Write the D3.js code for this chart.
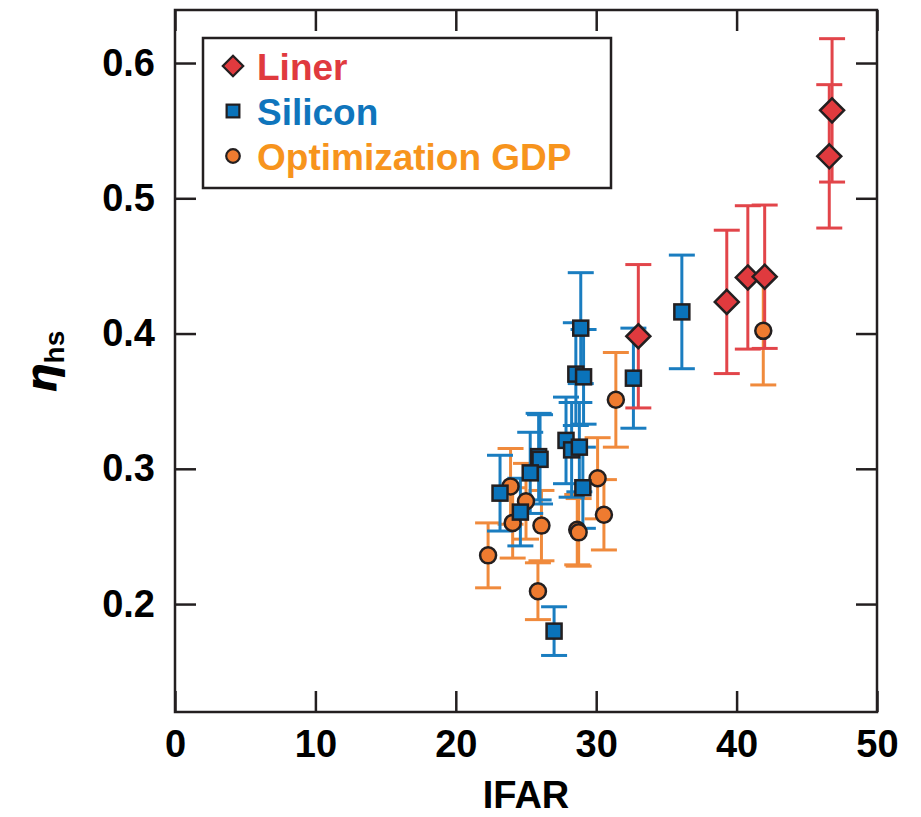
<!DOCTYPE html>
<html>
<head>
<meta charset="utf-8">
<script src="https://cdn.jsdelivr.net/npm/d3@7"></script>
<style>
  body { margin: 0; background: #fff; }
  text { font-family: "Liberation Sans", Arial, sans-serif; font-weight: bold; }
</style>
</head>
<body>
<div id="vis"></div>
<script>
// [IFAR, eta_hs, error]
var liner = [
  [33.0, 0.398, 0.053], [39.3, 0.4234, 0.053], [40.8, 0.4415, 0.053],
  [42.0, 0.442, 0.053], [46.8, 0.565, 0.053], [46.6, 0.531, 0.053]
];
var silicon = [
  [28.9, 0.404, 0.041], [28.55, 0.370, 0.038], [29.1, 0.368, 0.035],
  [32.65, 0.367, 0.037], [36.1, 0.416, 0.042], [27.85, 0.321, 0.032],
  [28.25, 0.314, 0.035], [28.8, 0.316, 0.033], [25.9, 0.309, 0.032],
  [26.0, 0.307, 0.033], [25.3, 0.297, 0.030], [29.05, 0.286, 0.030],
  [23.15, 0.282, 0.028], [24.6, 0.268, 0.025], [27.0, 0.180, 0.018]
];
var gdp = [
  [31.4, 0.351, 0.035], [41.9, 0.402, 0.040], [30.1, 0.293, 0.030],
  [23.9, 0.287, 0.028], [25.0, 0.276, 0.028], [30.55, 0.266, 0.026],
  [24.05, 0.260, 0.026], [26.1, 0.258, 0.026], [28.65, 0.255, 0.026],
  [28.75, 0.253, 0.025], [22.3, 0.236, 0.024], [25.85, 0.2095, 0.021]
];
var xTicks = [0, 10, 20, 30, 40, 50];
var yTicks = [0.2, 0.3, 0.4, 0.5, 0.6];

var width = 921, height = 817;
var plotL = 175, plotR = 877, plotT = 10, plotB = 712;

var series = [
  {name: "Optimization GDP", data: gdp, shape: "circle", fill: "#ee7b30", bar: "#f08a3c", text: "#f7941d"},
  {name: "Silicon", data: silicon, shape: "square", fill: "#0a73ba", bar: "#1a7dc0", text: "#0f75bc"},
  {name: "Liner", data: liner, shape: "diamond", fill: "#e03a3e", bar: "#e2454a", text: "#e03a3e"}
];

var x = d3.scaleLinear().domain([0, 50]).range([plotL, plotR]);
var y = d3.scaleLinear().domain([0.1202, 0.6392]).range([plotB, plotT]);

var svg = d3.select("#vis").append("svg")
    .attr("width", width)
    .attr("height", height);

// axes, ticks pointing inward
svg.append("g")
    .attr("transform", "translate(0," + plotB + ")")
    .call(d3.axisBottom(x).tickValues(xTicks).tickSizeInner(-21).tickSizeOuter(0).tickPadding(18))
    .call(styleAxis);
svg.append("g")
    .attr("transform", "translate(0," + plotT + ")")
    .call(d3.axisTop(x).tickValues(xTicks).tickSizeInner(-21).tickSizeOuter(0).tickFormat(""))
    .call(styleAxis);
svg.append("g")
    .attr("transform", "translate(" + plotL + ",0)")
    .call(d3.axisLeft(y).tickValues(yTicks).tickSizeInner(-21).tickSizeOuter(0).tickPadding(20).tickFormat(d3.format(".1f")))
    .call(styleAxis);
svg.append("g")
    .attr("transform", "translate(" + plotR + ",0)")
    .call(d3.axisRight(y).tickValues(yTicks).tickSizeInner(-21).tickSizeOuter(0).tickFormat(""))
    .call(styleAxis);

function styleAxis(g) {
  g.select(".domain").remove();
  g.selectAll("line").attr("stroke", "#231f20").attr("stroke-width", 2.5);
  g.selectAll("text").attr("font-size", 38).attr("fill", "#000")
    .style("font-family", "'Liberation Sans', Arial, sans-serif").style("font-weight", "bold");
}

svg.append("rect")
    .attr("x", plotL).attr("y", plotT)
    .attr("width", plotR - plotL).attr("height", plotB - plotT)
    .attr("fill", "none").attr("stroke", "#231f20").attr("stroke-width", 2.5);

// error bars
var cap = 13;
series.forEach(function(s) {
  var g = svg.append("g").attr("stroke", s.bar).attr("stroke-width", 3);
  s.data.forEach(function(d) {
    var cx = x(d[0]), y0 = y(d[1] - d[2]), y1 = y(d[1] + d[2]);
    g.append("line").attr("x1", cx).attr("x2", cx).attr("y1", y0).attr("y2", y1);
    g.append("line").attr("x1", cx - cap).attr("x2", cx + cap).attr("y1", y0).attr("y2", y0);
    g.append("line").attr("x1", cx - cap).attr("x2", cx + cap).attr("y1", y1).attr("y2", y1);
  });
});

function marker(g, shape, cx, cy, k) {
  if (shape == "circle") {
    return g.append("circle").attr("cx", cx).attr("cy", cy).attr("r", 8 * k);
  } else if (shape == "square") {
    var h = 7.5 * k;
    return g.append("rect").attr("x", cx - h).attr("y", cy - h).attr("width", 2 * h).attr("height", 2 * h);
  } else {
    var r = 12 * k;
    return g.append("path").attr("d", "M" + cx + "," + (cy - r) + "L" + (cx + r) + "," + cy +
      "L" + cx + "," + (cy + r) + "L" + (cx - r) + "," + cy + "Z");
  }
}

series.forEach(function(s) {
  var g = svg.append("g").attr("stroke", "#231f20").attr("stroke-width", 2.5).attr("fill", s.fill);
  s.data.forEach(function(d) {
    marker(g, s.shape, x(d[0]), y(d[1]), 1);
  });
});

// legend
var lg = svg.append("g");
lg.append("rect").attr("x", 203).attr("y", 38).attr("width", 408).attr("height", 150)
    .attr("fill", "#fff").attr("stroke", "#231f20").attr("stroke-width", 2.5);
var legendOrder = [series[2], series[1], series[0]];
legendOrder.forEach(function(s, i) {
  var cy = 66 + i * 45;
  var m = marker(lg, s.shape, 233, cy, 0.85);
  m.attr("fill", s.fill).attr("stroke", "#231f20").attr("stroke-width", 2.2);
  lg.append("text").attr("x", 257).attr("y", cy + 14)
      .attr("font-size", 37).attr("fill", s.text).text(s.name);
});

// axis titles
svg.append("text")
    .attr("x", x(25)).attr("y", 808)
    .attr("text-anchor", "middle").attr("font-size", 38).text("IFAR");

var yl = svg.append("text")
    .attr("transform", "translate(56,362) rotate(-90)")
    .attr("text-anchor", "middle");
yl.append("tspan").attr("font-size", 42).style("font-style", "italic").style("font-weight", "bold")
    .style("font-family", "'DejaVu Sans', sans-serif").text("η");
yl.append("tspan").attr("font-size", 28).attr("dy", 8).text("hs");
</script>
</body>
</html>
